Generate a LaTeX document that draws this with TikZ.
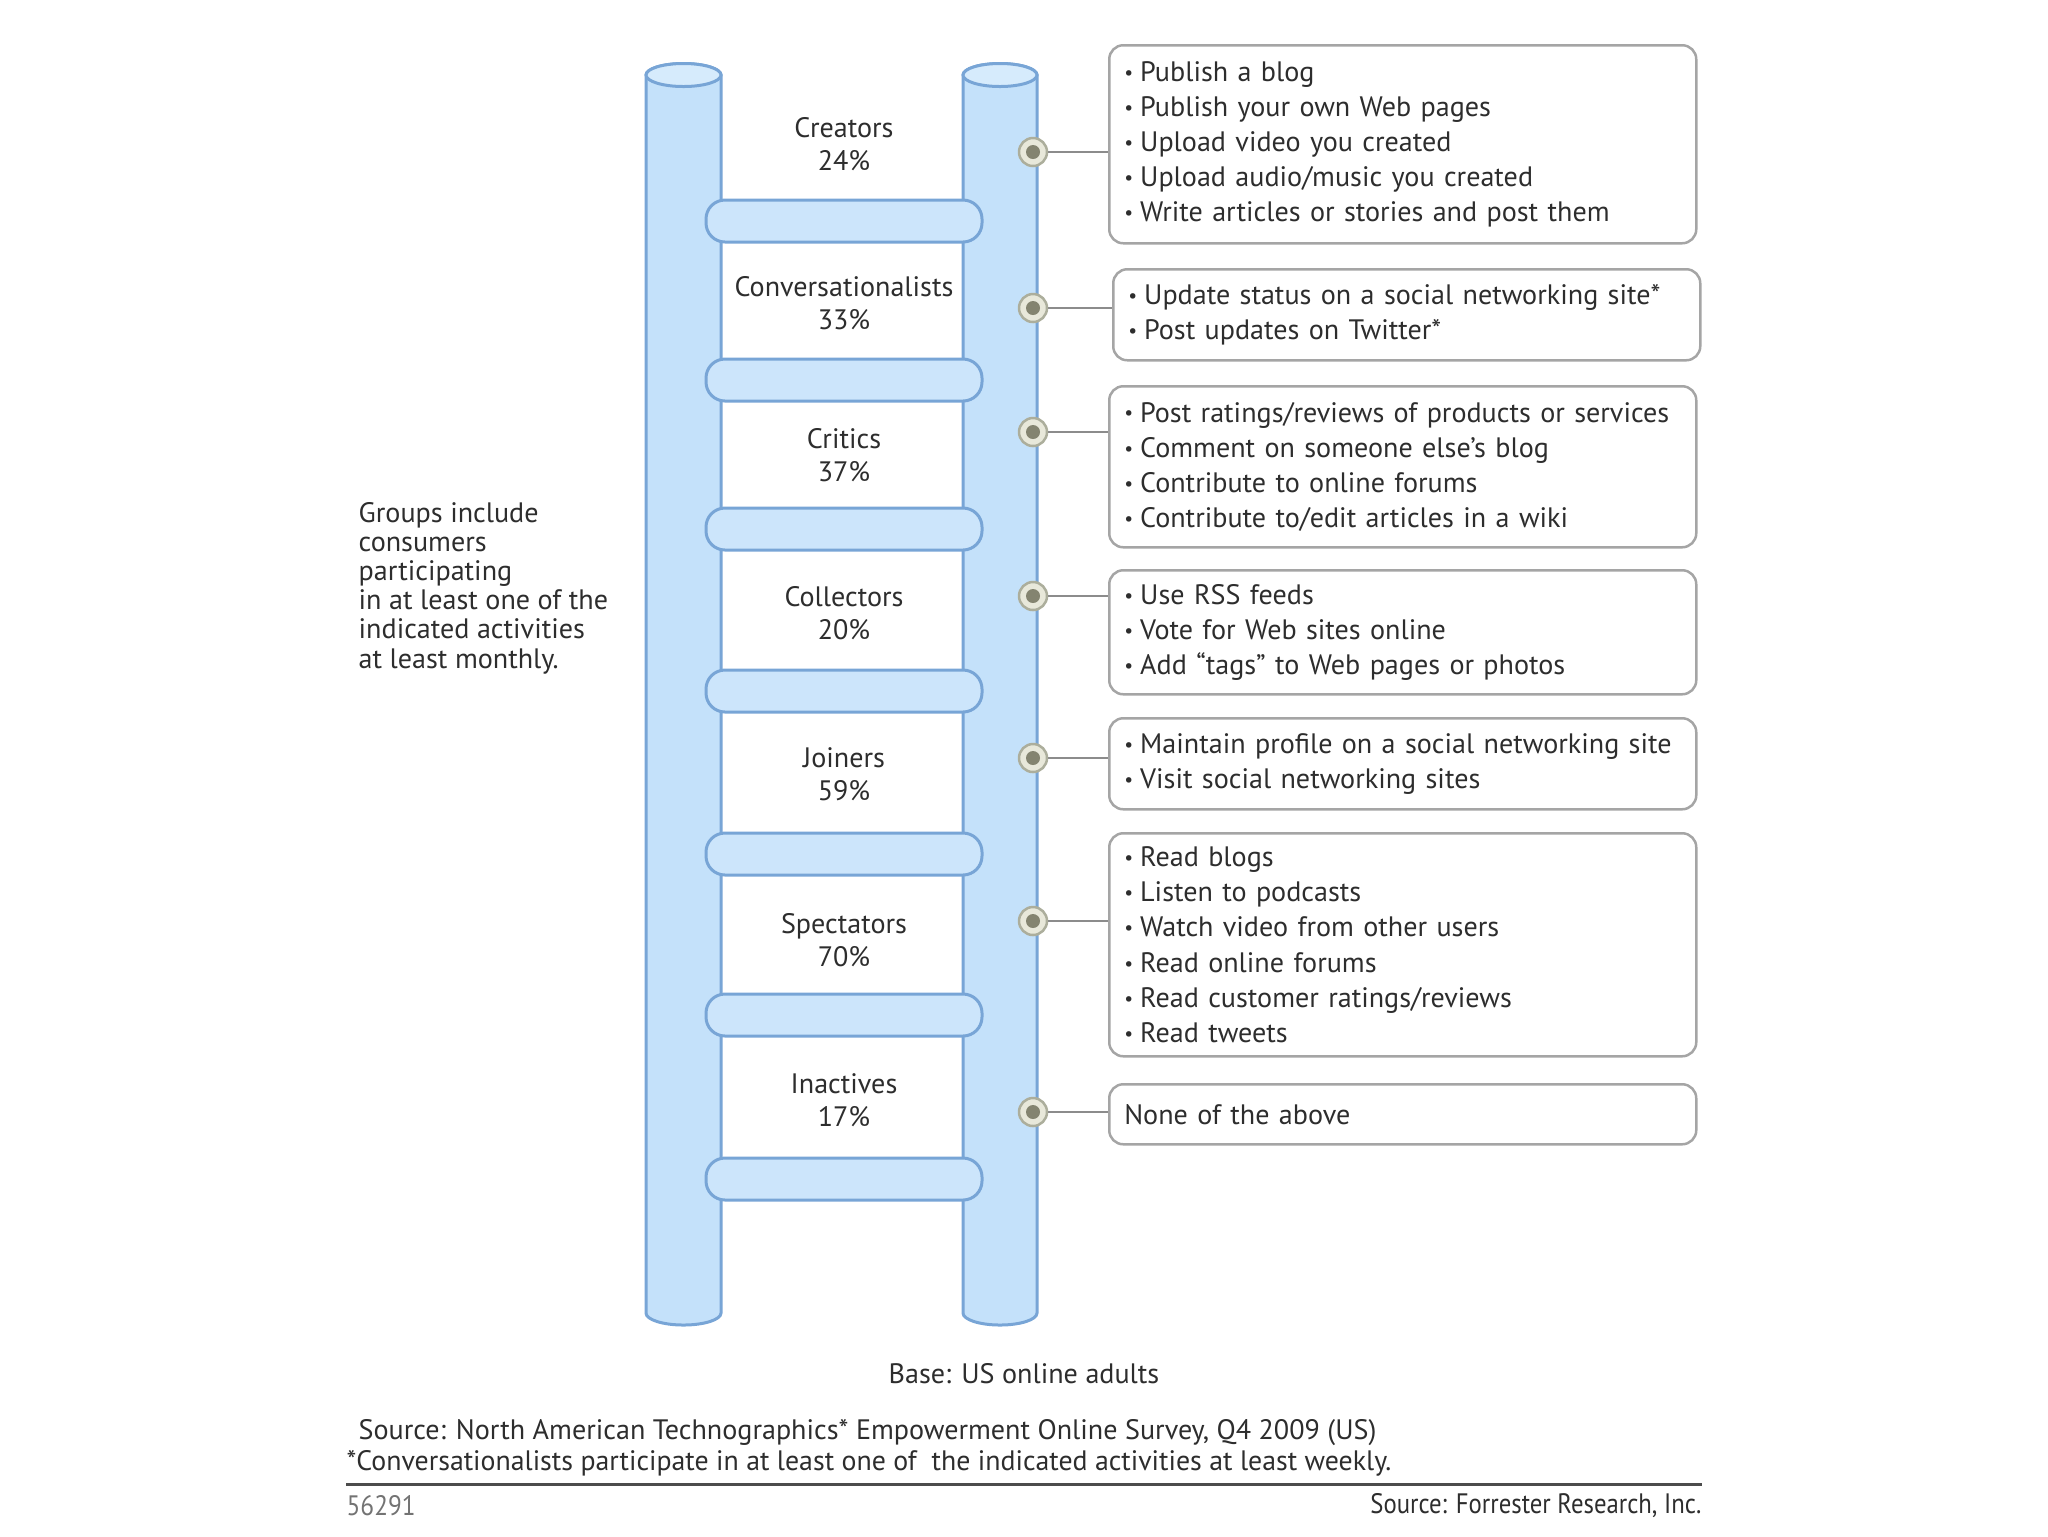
\documentclass[tikz,border=0pt]{standalone}
\usepackage{fontspec}
\setmainfont{PT Sans}
\usepackage{tikz}
\usetikzlibrary{positioning,calc}

\definecolor{railfill}{RGB}{196,225,250}
\definecolor{railtop}{RGB}{214,235,252}
\definecolor{railedge}{RGB}{120,165,214}
\definecolor{rungfill}{RGB}{204,229,251}
\definecolor{boxedge}{RGB}{165,165,165}
\definecolor{dotring}{RGB}{232,232,218}
\definecolor{dotedge}{RGB}{172,174,156}
\definecolor{dotcore}{RGB}{132,132,112}
\definecolor{txt}{RGB}{45,45,45}

\newcommand{\bul}{\raisebox{0.15ex}{\scalebox{0.7}{\textbullet}}\hspace{0.25em}}

\begin{document}
\begin{tikzpicture}[
  x=0.1mm, y=-0.1mm,
  font=\fontsize{8}{10}\selectfont, text=txt,
  rail/.style={draw=railedge, fill=railfill, line width=0.3mm},
  rung/.style={draw=railedge, fill=rungfill, line width=0.3mm,
    rounded corners=1.9mm, minimum width=27.6mm, minimum height=4.2mm},
  lbl/.style={align=center, font=\fontsize{8}{9.3}\selectfont},
  dot/.style={circle, draw=dotedge, fill=dotring, line width=0.25mm,
    minimum size=2.8mm, inner sep=0pt,
    path picture={\fill[dotcore] (path picture bounding box.center) circle (0.7mm);}},
  box/.style={draw=boxedge, line width=0.25mm, rounded corners=1.4mm,
    anchor=north west, align=left, text width=55.7mm, inner xsep=1.5mm},
  link/.style={draw=black!45, line width=0.2mm}
]
  \useasboundingbox (0,0) rectangle (2048,1536);

  % ladder rails
  \filldraw[rail] (646,75) -- (646,1313)
    arc[start angle=180, end angle=360, x radius=3.75mm, y radius=1.2mm]
    -- (721,75)
    arc[start angle=0, end angle=180, x radius=3.75mm, y radius=1.15mm] -- cycle;
  \filldraw[rail, fill=railtop] (683.5,75) ellipse [x radius=3.75mm, y radius=1.15mm];
  \filldraw[rail] (963,75) -- (963,1313)
    arc[start angle=180, end angle=360, x radius=3.7mm, y radius=1.2mm]
    -- (1037,75)
    arc[start angle=0, end angle=180, x radius=3.7mm, y radius=1.15mm] -- cycle;
  \filldraw[rail, fill=railtop] (1000,75) ellipse [x radius=3.7mm, y radius=1.15mm];

  % rungs
  \node[rung] (r1) at (844,221) {};
  \node[rung] (r2) at (844,380) {};
  \node[rung] (r3) at (844,529) {};
  \node[rung] (r4) at (844,691) {};
  \node[rung] (r5) at (844,854) {};
  \node[rung] (r6) at (844,1015) {};
  \node[rung] (r7) at (844,1179) {};

  % groups
  \node[lbl] (creat) at (844,144) {Creators\\24\%};
  \node[lbl] (conv) at (844,303) {Conversationalists\\33\%};
  \node[lbl] (crit) at (844,455) {Critics\\37\%};
  \node[lbl] (coll) at (844,613) {Collectors\\20\%};
  \node[lbl] (join) at (844,774) {Joiners\\59\%};
  \node[lbl] (spec) at (844,940) {Spectators\\70\%};
  \node[lbl] (inact) at (844,1100) {Inactives\\17\%};

  % activity boxes
  \node[box, minimum height=19.8mm] (b1) at (1108,44)
    {\bul Publish a blog\\\bul Publish your own Web pages\\\bul Upload video you created\\
     \bul Upload audio/music you created\\\bul Write articles or stories and post them};
  \node[box, minimum height=9.1mm, text width=55.7mm] (b2) at (1112,268)
    {\bul Update status on a social networking site*\\\bul Post updates on Twitter*};
  \node[box, minimum height=16.1mm] (b3) at (1108,385)
    {\bul Post ratings/reviews of products or services\\\bul Comment on someone else’s blog\\
     \bul Contribute to online forums\\\bul Contribute to/edit articles in a wiki};
  \node[box, minimum height=12.4mm] (b4) at (1108,569)
    {\bul Use RSS feeds\\\bul Vote for Web sites online\\\bul Add “tags” to Web pages or photos};
  \node[box, minimum height=9.1mm] (b5) at (1108,717)
    {\bul Maintain profile on a social networking site\\\bul Visit social networking sites};
  \node[box, minimum height=22.3mm] (b6) at (1108,832)
    {\bul Read blogs\\\bul Listen to podcasts\\\bul Watch video from other users\\
     \bul Read online forums\\\bul Read customer ratings/reviews\\\bul Read tweets};
  \node[box, minimum height=6mm] (b7) at (1108,1083) {None of the above};

  % dots on the right rail
  \node[dot] (d1) at (1033,152) {};
  \node[dot] (d2) at (1033,308) {};
  \node[dot] (d3) at (1033,432) {};
  \node[dot] (d4) at (1033,596) {};
  \node[dot] (d5) at (1033,758) {};
  \node[dot] (d6) at (1033,921) {};
  \node[dot] (d7) at (1033,1112) {};
  \draw[link] (d1.east) -- (d1.east -| b1.west);
  \draw[link] (d2.east) -- (d2.east -| b2.west);
  \draw[link] (d3.east) -- (d3.east -| b3.west);
  \draw[link] (d4.east) -- (d4.east -| b4.west);
  \draw[link] (d5.east) -- (d5.east -| b5.west);
  \draw[link] (d6.east) -- (d6.east -| b6.west);
  \draw[link] (d7.east) -- (d7.east -| b7.west);

  \node[anchor=west, align=left, inner sep=0pt, font=\fontsize{8}{8.3}\selectfont]
    (note) at (358,588)
    {Groups include\\consumers\\participating\\in at least one of the\\
     indicated activities\\at least monthly.};

  % footer
  \node (base) at (1024,1374) {Base: US online adults};
  \node[anchor=west, inner sep=0pt] (src) at (358,1433)
    {Source: North American Technographics* Empowerment Online Survey, Q4 2009 (US)};
  \node[anchor=west, inner sep=0pt] (foot) at (346,1463)
    {\scalebox{0.99}[1]{*Conversationalists participate in at least one of\ \ the indicated activities at least weekly.}};
  \coordinate (ruleL) at (346,1484);
  \coordinate (ruleR) at (1702,1484);
  \draw[black!70, line width=0.3mm] (ruleL) -- (ruleR);
  \node[anchor=west, inner sep=0pt, text=black!55] (num) at (346,1506) {\scalebox{0.9}[1]{56291}};
  \node[anchor=east, inner sep=0pt] (forr) at (1702,1506)
    {\scalebox{0.88}[1]{Source: Forrester Research, Inc.}};
\end{tikzpicture}
\end{document}
